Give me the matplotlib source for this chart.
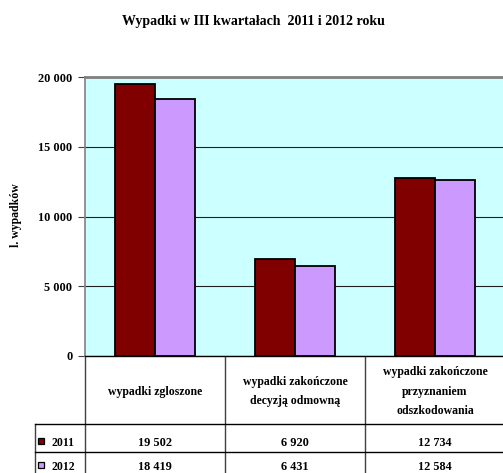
import numpy as np
import matplotlib
matplotlib.use('Agg')
import matplotlib.pyplot as plt
from matplotlib.transforms import blended_transform_factory
from matplotlib.lines import Line2D
from matplotlib.patches import Rectangle

# Data
categories = ['wypadki zgloszone',
              'wypadki zakończone\ndecyzją odmowną',
              'wypadki zakończone\nprzyznaniem\nodszkodowania']
years = ['2011', '2012']
values_2011 = [19502, 6920, 12734]
values_2012 = [18419, 6431, 12584]
value_labels_2011 = ['19 502', '6 920', '12 734']
value_labels_2012 = ['18 419', '6 431', '12 584']
yticks = [0, 5000, 10000, 15000, 20000]
ytick_labels = ['0', '5 000', '10 000', '15 000', '20 000']

colors = ['#800000', '#CC99FF']
bg = '#CCFFFF'

plt.rcParams['font.family'] = ['Liberation Serif', 'DejaVu Serif']
plt.rcParams['font.weight'] = 'bold'

W, H = 503, 473
fig = plt.figure(figsize=(W / 100, H / 100), dpi=100)

# plot area in pixels: x 85..505, y 77..356
ax = fig.add_axes([85 / W, 1 - 356 / H, 420 / W, (356 - 77) / H])
ax.set_facecolor(bg)

x = np.arange(len(categories))
bw = 0.285
ax.bar(x - bw / 2, values_2011, width=bw, color=colors[0], edgecolor='black', linewidth=1.3, zorder=3)
ax.bar(x + bw / 2, values_2012, width=bw, color=colors[1], edgecolor='black', linewidth=1.3, zorder=3)

ax.set_xlim(-0.5, len(categories) - 0.5)
ax.set_ylim(0, 20000)
ax.set_yticks(yticks)
ax.set_yticklabels(ytick_labels, fontsize=8.8, fontweight='bold')
ax.tick_params(axis='y', length=5, width=0.8, color='#404040', pad=4)
ax.set_xticks([])
ax.yaxis.grid(True, color='#202020', linewidth=0.8, zorder=0)
ax.set_axisbelow(True)

ax.spines['top'].set_color('#808080')
ax.spines['top'].set_linewidth(2)
ax.spines['left'].set_color('#808080')
ax.spines['left'].set_linewidth(1.2)
ax.spines['bottom'].set_color('black')
ax.spines['bottom'].set_linewidth(1)
ax.spines['right'].set_visible(False)

ax.set_ylabel('l. wypadków', fontsize=8.5, fontweight='bold')
ax.yaxis.set_label_coords(-0.15, 1 - (215 - 77) / (356 - 77))

fig.text(253 / W, 1 - 21 / H, 'Wypadki w III kwartałach  2011 i 2012 roku',
         ha='center', va='center', fontsize=10, fontweight='bold')

# Data table below the chart
tr = blended_transform_factory(ax.transData, fig.transFigure)


def fy(py):
    return 1 - py / H


y_top, y_r1, y_r2, y_bot = 357, 424, 452, 480
legend_left = -0.5 - 50 / 140  # legend column starts ~50px left of plot

# vertical lines
for b in np.arange(len(categories) + 1) - 0.5:
    fig.add_artist(Line2D([b, b], [fy(y_top), fy(y_bot)], transform=tr, color='#404040', lw=1))
fig.add_artist(Line2D([legend_left, legend_left], [fy(y_r1), fy(y_bot)], transform=tr, color='#404040', lw=1))
# horizontal lines
for yy in (y_r1, y_r2):
    fig.add_artist(Line2D([legend_left, len(categories) - 0.5], [fy(yy), fy(yy)], transform=tr, color='black', lw=1))

for i, cat in enumerate(categories):
    fig.text(i, fy((y_top + y_r1) / 2 + 1), cat, transform=tr, ha='center', va='center',
             fontsize=8.5, fontweight='bold', linespacing=1.85)
    fig.text(i, fy(443), value_labels_2011[i], transform=tr, ha='center', va='center',
             fontsize=8.8, fontweight='bold')
    fig.text(i, fy(467), value_labels_2012[i], transform=tr, ha='center', va='center',
             fontsize=8.8, fontweight='bold')

# legend keys
for j, (yr, yc) in enumerate(zip(years, (443, 467))):
    fig.add_artist(Rectangle((38 / W, fy(yc + 1)), 6 / W, 6 / H, transform=fig.transFigure,
                             facecolor=colors[j], edgecolor='black', lw=0.9))
    fig.text(51 / W, fy(yc), yr, ha='left', va='center', fontsize=8.5, fontweight='bold')

fig.savefig('out.png', dpi=100)
